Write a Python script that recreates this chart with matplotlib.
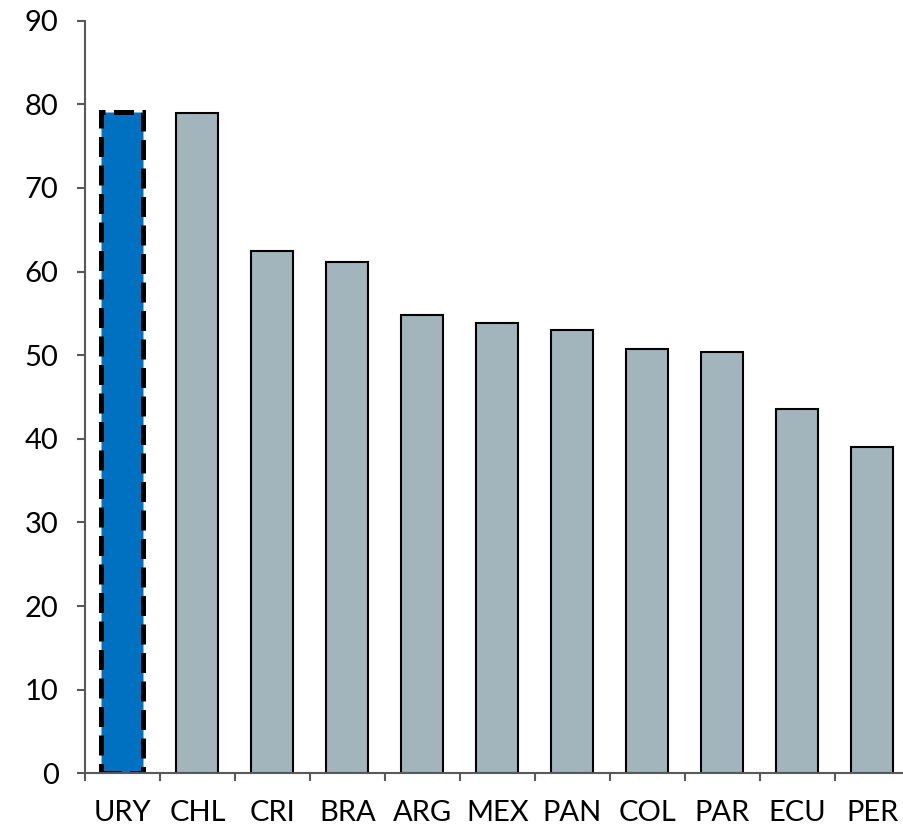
import matplotlib
matplotlib.use("Agg")
import matplotlib.pyplot as plt
import numpy as np

countries = ["URY", "CHL", "CRI", "BRA", "ARG", "MEX", "PAN", "COL", "PAR", "ECU", "PER"]
values = [79.1, 79.0, 62.4, 61.2, 54.8, 53.9, 53.0, 50.7, 50.4, 43.6, 39.0]
yticks = [0, 10, 20, 30, 40, 50, 60, 70, 80, 90]

plt.rcParams['font.family'] = ['Lato', 'DejaVu Sans']

W, H = 904, 826
fig = plt.figure(figsize=(W / 100, H / 100), dpi=100)
left, right, top, bottom = 85, 910, 20.7, 773.3
ax = fig.add_axes([left / W, (H - bottom) / H, (right - left) / W, (bottom - top) / H])

x = np.arange(len(countries))
colors = ["#0070C0"] + ["#A2B4BC"] * (len(countries) - 1)
bars = ax.bar(x, values, width=0.56, color=colors, edgecolor="black", linewidth=1.5, zorder=2)
bars[0].set_linewidth(3.6)
bars[0].set_linestyle((0, (4.0, 1.7)))

ax.set_xlim(-0.5, len(countries) - 0.5)
ax.set_ylim(0, 90)
ax.set_yticks(yticks)
ax.set_yticklabels([str(v) for v in yticks])
ax.set_xticks(x)
ax.set_xticklabels(countries)
ax.set_xticks(np.arange(len(countries) + 1) - 0.5, minor=True)

spine_color = "#595959"
for s in ["top", "right"]:
    ax.spines[s].set_visible(False)
for s in ["left", "bottom"]:
    ax.spines[s].set_color(spine_color)
    ax.spines[s].set_linewidth(1.5)

ax.tick_params(axis="y", which="major", length=6, width=1.5, color=spine_color,
               labelsize=21, pad=13, direction="out")
ax.tick_params(axis="x", which="major", length=0, labelsize=21, pad=19)
ax.tick_params(axis="x", which="minor", length=6, width=1.5, color=spine_color, direction="out")

fig.savefig("out.png", dpi=100)
